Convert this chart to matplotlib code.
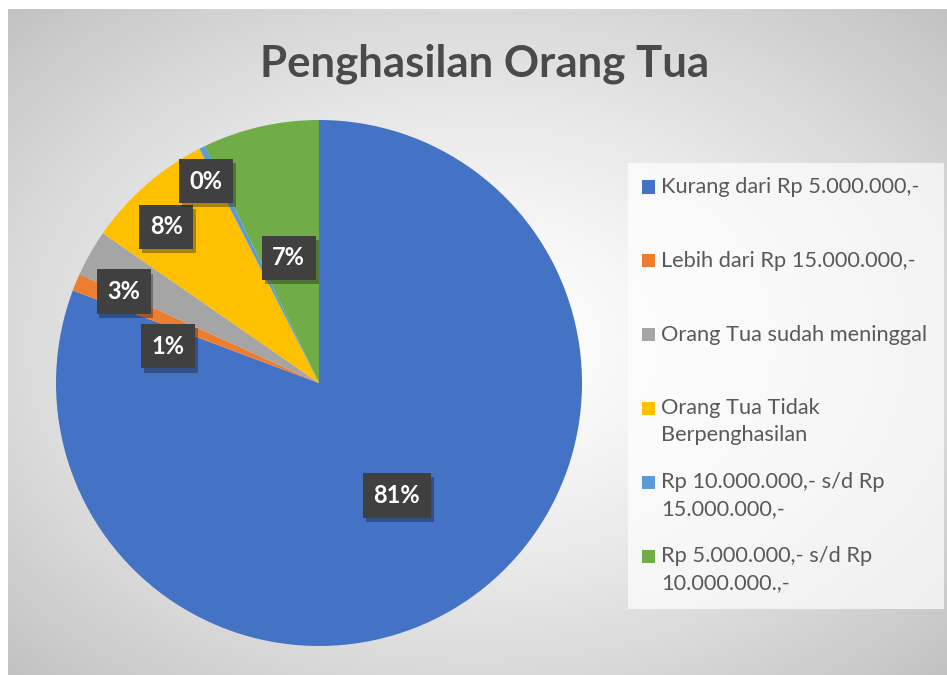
import numpy as np
import matplotlib.pyplot as plt
from matplotlib import patheffects
from matplotlib.patches import Rectangle

# data
categories = ['Kurang dari Rp 5.000.000,-',
              'Lebih dari Rp 15.000.000,-',
              'Orang Tua sudah meninggal',
              'Orang Tua Tidak\nBerpenghasilan',
              'Rp 10.000.000,- s/d Rp\n15.000.000,-',
              'Rp 5.000.000,- s/d Rp\n10.000.000.,-']
counts = [226, 3, 8, 22, 1, 20]
colors = ['#4472C4', '#ED7D31', '#A5A5A5', '#FFC000', '#5B9BD5', '#70AD47']
title = 'Penghasilan Orang Tua'

# label placement (radius fraction, angle shift in degrees) - like excel best fit
lbl_r = [0.52, 0.59, 0.82, 0.83, 0.88, 0.49]
lbl_shift = [0, 8.8, 4.5, 3.2, 2.9, 0.7]

W, H = 947, 675
plt.rcParams['font.family'] = ['Lato', 'DejaVu Sans']
fig = plt.figure(figsize=(W / 100, H / 100), dpi=100)

def fx(x):
    return x / W

def fy(y):
    return 1 - y / H

# radial gray background
bg = fig.add_axes([fx(8), 0, 1 - fx(8), fy(9)])
yy, xx = np.mgrid[0:1:300j, 0:1:400j]
d = np.sqrt(((xx - 0.5) / 0.5) ** 2 + ((yy - 0.5) / 0.5) ** 2) / np.sqrt(2)
g = 1.0 - 0.24 * d ** 1.4
bg.imshow(np.dstack([g, g, g]), extent=[0, 1, 0, 1], aspect='auto')
bg.set_axis_off()

# pie
cx, cy, R = 319, 383, 263
ax = fig.add_axes([fx(cx - R), fy(cy + R), 2 * R / W, 2 * R / H])
wedges, _ = ax.pie(counts, colors=colors, startangle=90, counterclock=False,
                   radius=1, wedgeprops=dict(linewidth=0))
ax.set_xlim(-1, 1)
ax.set_ylim(-1, 1)
ax.set_aspect('equal')
ax.set_axis_off()

total = sum(counts)
for i, w in enumerate(wedges):
    mid = (w.theta1 + w.theta2) / 2 + lbl_shift[i]
    r = lbl_r[i]
    pct = '%d%%' % round(100 * counts[i] / total)
    t = ax.text(r * np.cos(np.radians(mid)), r * np.sin(np.radians(mid)), pct,
                ha='center', va='center', color='white', fontsize=17,
                fontweight='bold',
                bbox=dict(boxstyle='square,pad=0.45', fc='#404040', ec='none'))
    t.get_bbox_patch().set_path_effects(
        [patheffects.SimplePatchShadow(offset=(2, -3), alpha=0.35), patheffects.Normal()])

# title
fig.text(fx(485), fy(76), title, ha='center', va='baseline', fontsize=31.5,
         fontweight='bold', color='#4a4a4a')

# legend (drawn by hand so every entry gets the same slot like excel)
fig.patches.append(Rectangle((fx(628), fy(609)), fx(944) - fx(628), fy(163) - fy(609),
                             transform=fig.transFigure, fc='white', alpha=0.7,
                             ec='none', zorder=1))
for i, lab in enumerate(categories):
    y0 = 187 + 73.8 * i
    fig.patches.append(Rectangle((fx(642), fy(y0 + 6.5)), fx(13), 13 / H,
                                 transform=fig.transFigure, fc=colors[i],
                                 ec='none', zorder=2))
    for j, line in enumerate(lab.split('\n')):
        fig.text(fx(661), fy(y0 + 27 * j), line, ha='left', va='center',
                 fontsize=15.7, color='#595959', zorder=3)

fig.savefig('out.png', dpi=100)
